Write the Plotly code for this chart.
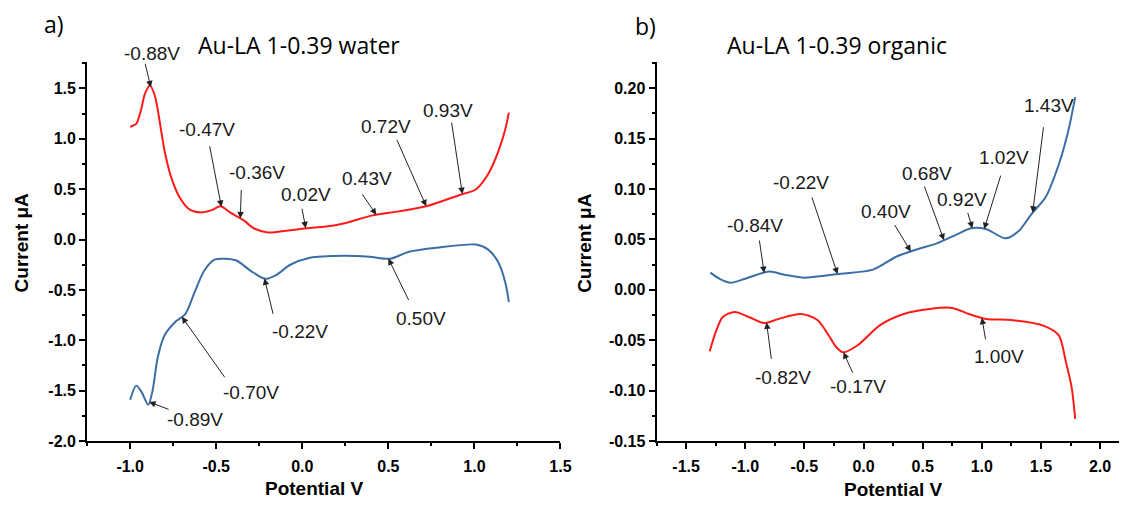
import numpy as np
import plotly.graph_objects as go

W, H = 1130, 507

# ---- panel a) : Au-LA 1-0.39 in water ----
water_red_v = [-1.00, -0.985, -0.964, -0.935, -0.915, -0.885, -0.857, -0.838, -0.819, -0.80,
               -0.762, -0.713, -0.656, -0.59, -0.53, -0.475, -0.42, -0.34, -0.28, -0.20,
               -0.13, -0.03, 0.01, 0.14, 0.24, 0.41, 0.56, 0.72, 0.91, 1.01, 1.08, 1.14,
               1.18, 1.20]
water_red_i = [1.12, 1.13, 1.15, 1.30, 1.445, 1.53, 1.43, 1.27, 1.07, 0.88,
               0.62, 0.42, 0.30, 0.27, 0.29, 0.33, 0.27, 0.19, 0.11, 0.07,
               0.08, 0.10, 0.11, 0.13, 0.16, 0.24, 0.28, 0.33, 0.44, 0.50, 0.65, 0.88,
               1.10, 1.26]

water_blue_v = [-1.00, -0.965, -0.935, -0.895, -0.87, -0.84, -0.80, -0.74, -0.68, -0.625,
                -0.57, -0.51, -0.45, -0.38, -0.30, -0.215, -0.15, -0.07, 0.045, 0.24,
                0.39, 0.51, 0.62, 0.78, 1.01, 1.08, 1.14, 1.18, 1.20]
water_blue_i = [-1.59, -1.45, -1.51, -1.64, -1.50, -1.17, -0.95, -0.82, -0.74, -0.52,
                -0.31, -0.20, -0.19, -0.21, -0.31, -0.39, -0.35, -0.25, -0.18, -0.16,
                -0.17, -0.19, -0.12, -0.08, -0.05, -0.10, -0.23, -0.43, -0.62]

# ---- panel b) : Au-LA 1-0.39 in organic solvent ----
org_blue_v = [-1.295, -1.22, -1.13, -1.0, -0.80, -0.67, -0.50, -0.33, -0.19, 0.08,
              0.28, 0.45, 0.62, 0.79, 0.91, 1.04, 1.20, 1.31, 1.42, 1.54,
              1.65, 1.73, 1.79]
org_blue_i = [0.017, 0.011, 0.007, 0.011, 0.018, 0.015, 0.012, 0.014, 0.016, 0.020,
              0.033, 0.040, 0.046, 0.055, 0.061, 0.060, 0.051, 0.058, 0.075, 0.092,
              0.124, 0.157, 0.191]

org_red_v = [-1.30, -1.25, -1.19, -1.09, -0.97, -0.84, -0.72, -0.53, -0.39, -0.28,
             -0.23, -0.17, -0.05, 0.14, 0.34, 0.56, 0.75, 0.89, 1.04, 1.25,
             1.53, 1.65, 1.71, 1.76, 1.79]
org_red_i = [-0.061, -0.042, -0.027, -0.022, -0.027, -0.033, -0.029, -0.024, -0.030, -0.048,
             -0.057, -0.062, -0.055, -0.035, -0.024, -0.019, -0.018, -0.024, -0.029, -0.030,
             -0.036, -0.045, -0.071, -0.097, -0.128]

# peak labels: (potential, curve, arrow offset px, text offset px)
water_peaks = [
    (-0.88, "red", (-6, -25), (1, 34)),
    (-0.47, "red", (-12, -62), (-14, 77)),
    (-0.36, "red", (1, -30), (17, 46)),
    (0.02, "red", (-4, -21), (0, 34)),
    (0.43, "red", (-15, -22), (-9, 36)),
    (0.72, "red", (-30, -68), (-40, 80)),
    (0.93, "red", (-11, -73), (-14, 84)),
    (-0.22, "blue", (9, 37), (36, -53)),
    (0.50, "blue", (21, 43), (33, -60)),
    (-0.70, "blue", (44, 62), (69, -76)),
    (-0.89, "blue", (21, 8), (46, -18)),
]
organic_peaks = [
    (-0.84, "blue", (-5, -34), (-9, 48)),
    (-0.22, "blue", (-26, -78), (-37, 92)),
    (0.40, "blue", (-17, -28), (-25, 40)),
    (0.68, "blue", (-20, -55), (-17, 67)),
    (0.92, "blue", (-5, -17), (-10, 29)),
    (1.02, "blue", (17, -55), (20, 72)),
    (1.43, "blue", (11, -87), (16, 107)),
    (-0.82, "red", (5, 38), (16, -55)),
    (-0.17, "red", (10, 22), (15, -34)),
    (1.00, "red", (4, 23), (17, -39)),
]

RED = "#FF1A1A"
BLUE = "#3C6EA6"
TICK_FONT = dict(family="Liberation Sans, Arial", size=16, color="black", weight="bold")
LABEL_FONT = dict(family="Liberation Sans, Arial", size=19, color="#1a1a1a")
TITLE_FONT = dict(family="Open Sans, Noto Sans", size=23, color="black")
AXIS_TITLE_FONT = dict(family="Liberation Sans, Arial", size=19, color="black", weight="bold")


def px(x, y):
    """pixel position -> paper coordinates"""
    return x / W, 1 - y / H


fig = go.Figure()
line_style = dict(width=2, shape="spline", smoothing=0.8)
fig.add_trace(go.Scatter(x=water_red_v, y=water_red_i, mode="lines",
                         line=dict(color=RED, **line_style), xaxis="x", yaxis="y"))
fig.add_trace(go.Scatter(x=water_blue_v, y=water_blue_i, mode="lines",
                         line=dict(color=BLUE, **line_style), xaxis="x", yaxis="y"))
fig.add_trace(go.Scatter(x=org_blue_v, y=org_blue_i, mode="lines",
                         line=dict(color=BLUE, **line_style), xaxis="x2", yaxis="y2"))
fig.add_trace(go.Scatter(x=org_red_v, y=org_red_i, mode="lines",
                         line=dict(color=RED, **line_style), xaxis="x2", yaxis="y2"))

annotations = []


def add_peak_labels(peaks, curves, xref, yref):
    for v, which, (ax, ay), (dx, dy) in peaks:
        cv, ci = curves[which]
        y = float(np.interp(v, cv, ci))
        annotations.append(dict(x=v, y=y, xref=xref, yref=yref, text="",
                                showarrow=True, ax=ax, ay=ay, arrowhead=2,
                                arrowsize=1.3, arrowwidth=1, arrowcolor="#222222"))
        annotations.append(dict(x=v, y=y, xref=xref, yref=yref,
                                text=f"{v:.2f}V", showarrow=False,
                                xshift=dx, yshift=dy, font=LABEL_FONT))


add_peak_labels(water_peaks, {"red": (water_red_v, water_red_i),
                              "blue": (water_blue_v, water_blue_i)}, "x", "y")
add_peak_labels(organic_peaks, {"red": (org_red_v, org_red_i),
                                "blue": (org_blue_v, org_blue_i)}, "x2", "y2")

# panel letters, titles and axis titles
for text, (x, y), font in [
    ("a)", (55, 24), TITLE_FONT),
    ("Au-LA 1-0.39 water", (302, 46), TITLE_FONT),
    ("b)", (652, 26), TITLE_FONT),
    ("Au-LA 1-0.39 organic", (845, 46), TITLE_FONT),
    ("Potential V", (318, 497), AXIS_TITLE_FONT),
    ("Potential V", (902, 498), AXIS_TITLE_FONT),
]:
    px_x, px_y = px(x, y)
    annotations.append(dict(x=px_x, y=px_y, xref="paper", yref="paper", text=text,
                            showarrow=False, font=font, xanchor="center", yanchor="middle"))

for x in (22, 590):
    px_x, px_y = px(x, 247)
    annotations.append(dict(x=px_x, y=px_y, xref="paper", yref="paper", text="Current μA",
                            showarrow=False, textangle=-90, xanchor="center", yanchor="middle",
                            font=AXIS_TITLE_FONT))

axis_common = dict(showline=True, linewidth=2, linecolor="black", ticks="outside",
                   ticklen=6, tickwidth=2, tickcolor="black", showgrid=False,
                   zeroline=False, tickfont=TICK_FONT, mirror=False)
minor_ticks = dict(ticks="outside", ticklen=3, tickwidth=2, tickcolor="black")

fig.update_layout(
    width=W, height=H,
    margin=dict(l=0, r=0, t=0, b=0),
    paper_bgcolor="white", plot_bgcolor="white",
    showlegend=False,
    xaxis=dict(domain=[88 / W, 566 / W], range=[-1.25, 1.5], tickvals=[-1.0, -0.5, 0.0, 0.5, 1.0, 1.5],
               ticktext=["-1.0", "-0.5", "0.0", "0.5", "1.0", "1.5"],
               minor=dict(dtick=0.25, tick0=0, **minor_ticks), ticklabelstandoff=4,
               anchor="y", **axis_common),
    yaxis=dict(domain=[1 - 449 / H, 1 - 63 / H], range=[-2.0, 1.764],
               tickvals=[-2.0, -1.5, -1.0, -0.5, 0.0, 0.5, 1.0, 1.5],
               ticktext=["-2.0", "-1.5", "-1.0", "-0.5", "0.0", "0.5", "1.0", "1.5"],
               minor=dict(dtick=0.25, tick0=0, **minor_ticks),
               anchor="x", **axis_common),
    xaxis2=dict(domain=[663 / W, 1.0], range=[-1.75, 2.16],
                tickvals=[-1.5, -1.0, -0.5, 0.0, 0.5, 1.0, 1.5, 2.0],
                ticktext=["-1.5", "-1.0", "-0.5", "0.0", "0.5", "1.0", "1.5", "2.0"],
                minor=dict(dtick=0.25, tick0=0, **minor_ticks), ticklabelstandoff=4,
                anchor="y2", **axis_common),
    yaxis2=dict(domain=[1 - 449 / H, 1 - 63 / H], range=[-0.15, 0.226],
                tickvals=[-0.15, -0.10, -0.05, 0.0, 0.05, 0.10, 0.15, 0.20],
                ticktext=["-0.15", "-0.10", "-0.05", "0.00", "0.05", "0.10", "0.15", "0.20"],
                minor=dict(dtick=0.025, tick0=0, **minor_ticks),
                anchor="x2", **axis_common),
    annotations=annotations,
)

fig.write_html("out.html")
